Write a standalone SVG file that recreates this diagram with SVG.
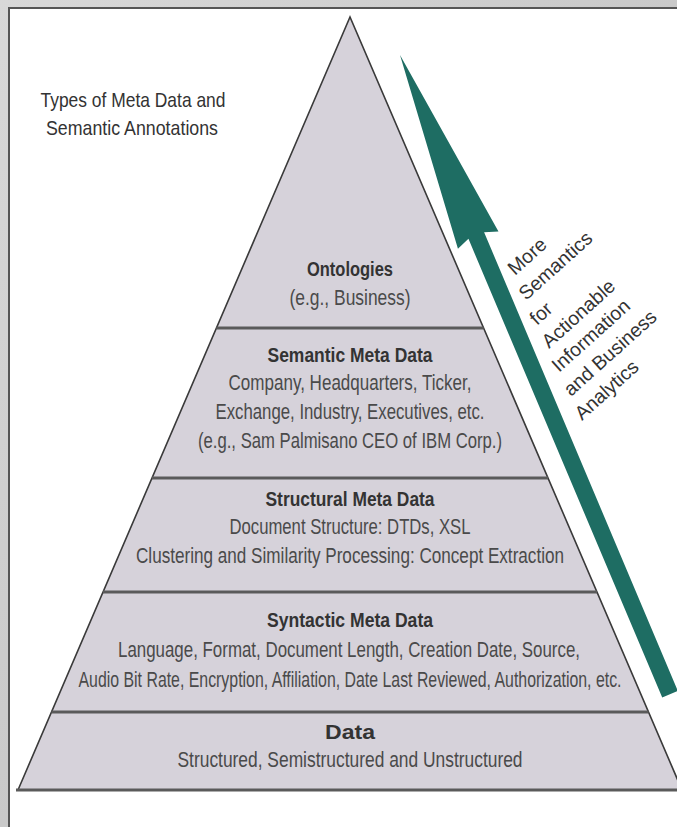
<svg xmlns="http://www.w3.org/2000/svg" width="677" height="827" viewBox="0 0 677 827">
<defs>
<linearGradient id="bg" x1="0" y1="0" x2="1" y2="1">
<stop offset="0" stop-color="#d8d8d8"/>
<stop offset="0.5" stop-color="#c9c9c9"/>
<stop offset="1" stop-color="#dcdcdc"/>
</linearGradient>
</defs>
<style>
.band{fill:#d6d2da;stroke:none}
.h{font-family:"Liberation Sans Narrow","Liberation Sans",Arial,sans-serif;font-weight:bold;font-size:21px;fill:#333;text-anchor:middle}
.b{font-family:"Liberation Sans Narrow","Liberation Sans",Arial,sans-serif;font-size:21.5px;fill:#4a4a4a;text-anchor:middle}
.t{font-family:"Liberation Sans Narrow","Liberation Sans",Arial,sans-serif;font-size:20px;fill:#333;text-anchor:middle}
.r{font-family:"Liberation Sans",Arial,sans-serif;font-size:19.5px;fill:#333}
.sep{stroke:#5a5a5a;stroke-width:3}
.edge{stroke:#3a3a3a;stroke-width:1.6;fill:none}
</style>
<rect x="0" y="0" width="677" height="827" fill="url(#bg)"/>
<rect x="9" y="8" width="680" height="830" fill="#ffffff" stroke="#555" stroke-width="2"/>

<g id="title">
<text class="t" transform="translate(133,107) scale(0.7,1)" textLength="264.3" lengthAdjust="spacingAndGlyphs">Types of Meta Data and</text>
<text class="t" transform="translate(132,135) scale(0.7,1)" textLength="245.7" lengthAdjust="spacingAndGlyphs">Semantic Annotations</text>
</g>

<g id="ontologies">
<polygon class="band" points="350,17 216.4,328 483.6,328"/>
<text class="h" transform="translate(350,276) scale(0.7,1)" textLength="122.9" lengthAdjust="spacingAndGlyphs">Ontologies</text>
<text class="b" transform="translate(350,305) scale(0.7,1)" textLength="172.9" lengthAdjust="spacingAndGlyphs">(e.g., Business)</text>
</g>

<g id="semantic">
<polygon class="band" points="216.4,328 483.6,328 548,478 152,478"/>
<text class="h" transform="translate(350,362) scale(0.7,1)" textLength="235.7" lengthAdjust="spacingAndGlyphs">Semantic Meta Data</text>
<text class="b" transform="translate(350,390) scale(0.7,1)" textLength="347.1" lengthAdjust="spacingAndGlyphs">Company, Headquarters, Ticker,</text>
<text class="b" transform="translate(350,419) scale(0.7,1)" textLength="384.3" lengthAdjust="spacingAndGlyphs">Exchange, Industry, Executives, etc.</text>
<text class="b" transform="translate(350,448) scale(0.7,1)" textLength="434.3" lengthAdjust="spacingAndGlyphs">(e.g., Sam Palmisano CEO of IBM Corp.)</text>
</g>

<g id="structural">
<polygon class="band" points="152,478 548,478 597,592 103,592"/>
<text class="h" transform="translate(350,506) scale(0.7,1)" textLength="241.4" lengthAdjust="spacingAndGlyphs">Structural Meta Data</text>
<text class="b" transform="translate(350,534) scale(0.7,1)" textLength="344.3" lengthAdjust="spacingAndGlyphs">Document Structure: DTDs, XSL</text>
<text class="b" transform="translate(350,563) scale(0.7,1)" textLength="611.4" lengthAdjust="spacingAndGlyphs">Clustering and Similarity Processing: Concept Extraction</text>
</g>

<g id="syntactic">
<polygon class="band" points="103,592 597,592 648.5,712 51.5,712"/>
<text class="h" transform="translate(350,627) scale(0.7,1)" textLength="237.1" lengthAdjust="spacingAndGlyphs">Syntactic Meta Data</text>
<text class="b" transform="translate(349,657) scale(0.7,1)" textLength="660" lengthAdjust="spacingAndGlyphs">Language, Format, Document Length, Creation Date, Source,</text>
<text class="b" transform="translate(350,687) scale(0.7,1)" textLength="775.7" lengthAdjust="spacingAndGlyphs">Audio Bit Rate, Encryption, Affiliation, Date Last Reviewed, Authorization, etc.</text>
</g>

<g id="data">
<polygon class="band" points="51.5,712 648.5,712 682,790 18,790"/>
<text class="h" transform="translate(350,739) scale(0.7,1)" textLength="71.4" lengthAdjust="spacingAndGlyphs">Data</text>
<text class="b" transform="translate(350,767) scale(0.7,1)" textLength="492.9" lengthAdjust="spacingAndGlyphs">Structured, Semistructured and Unstructured</text>
</g>

<g id="outline">
<path class="edge" d="M18,790 L350,17 L682,790"/>
<line class="sep" x1="216.4" y1="328" x2="483.6" y2="328"/>
<line class="sep" x1="152" y1="478" x2="548" y2="478"/>
<line class="sep" x1="103" y1="592" x2="597" y2="592"/>
<line class="sep" x1="51.5" y1="712" x2="648.5" y2="712"/>
<line class="sep" x1="16" y1="790" x2="684" y2="790"/>
</g>

<g id="connectors">
<polygon fill="#1e6d63" transform="translate(400,55) rotate(-22.9)" points="0,0 22,201 8.5,196 8.5,694 -8.5,694 -8.5,196 -22,201"/>
</g>

<g id="arrow-label">
<text class="r" transform="translate(515,276) rotate(-42)">More</text>
<text class="r" transform="translate(526,301) rotate(-42)">Semantics</text>
<text class="r" transform="translate(537,326) rotate(-42)">for</text>
<text class="r" transform="translate(549,349) rotate(-42)">Actionable</text>
<text class="r" transform="translate(559,373) rotate(-42)">Information</text>
<text class="r" transform="translate(571,397) rotate(-42)">and Business</text>
<text class="r" transform="translate(582,421) rotate(-42)">Analytics</text>
</g>
</svg>
